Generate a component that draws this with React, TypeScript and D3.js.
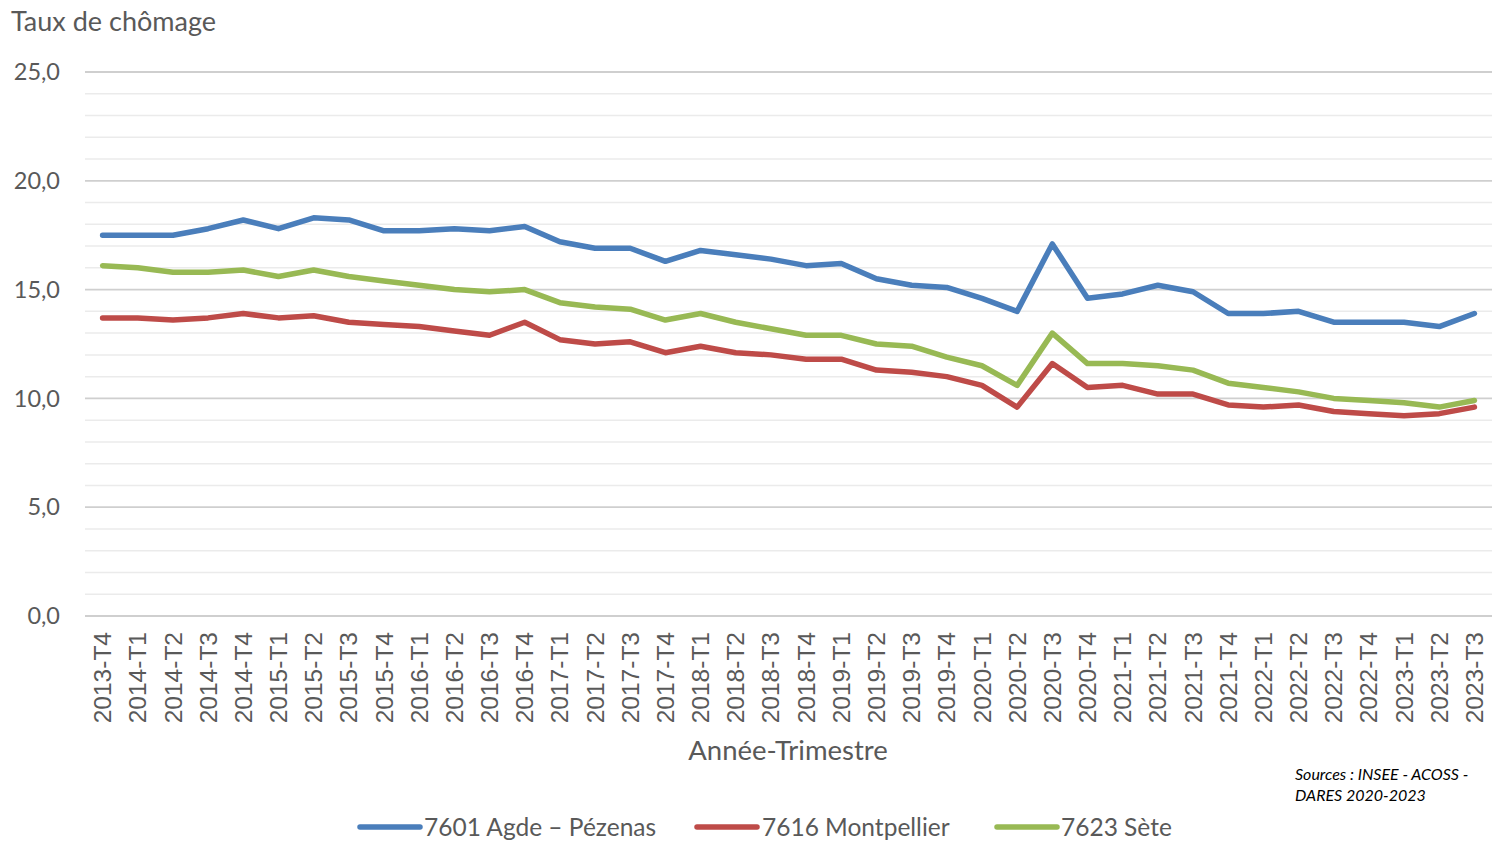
import React from "react";
import * as d3 from "d3";

const categories = [
  "2013-T4",
  "2014-T1", "2014-T2", "2014-T3", "2014-T4",
  "2015-T1", "2015-T2", "2015-T3", "2015-T4",
  "2016-T1", "2016-T2", "2016-T3", "2016-T4",
  "2017-T1", "2017-T2", "2017-T3", "2017-T4",
  "2018-T1", "2018-T2", "2018-T3", "2018-T4",
  "2019-T1", "2019-T2", "2019-T3", "2019-T4",
  "2020-T1", "2020-T2", "2020-T3", "2020-T4",
  "2021-T1", "2021-T2", "2021-T3", "2021-T4",
  "2022-T1", "2022-T2", "2022-T3", "2022-T4",
  "2023-T1", "2023-T2", "2023-T3",
];

const agdePezenas = [
  17.5, 17.5, 17.5, 17.8, 18.2, 17.8, 18.3, 18.2, 17.7, 17.7, 17.8, 17.7, 17.9,
  17.2, 16.9, 16.9, 16.3, 16.8, 16.6, 16.4, 16.1, 16.2, 15.5, 15.2, 15.1,
  14.6, 14.0, 17.1, 14.6, 14.8, 15.2, 14.9, 13.9, 13.9, 14.0, 13.5, 13.5, 13.5, 13.3, 13.9,
];

const montpellier = [
  13.7, 13.7, 13.6, 13.7, 13.9, 13.7, 13.8, 13.5, 13.4, 13.3, 13.1, 12.9, 13.5,
  12.7, 12.5, 12.6, 12.1, 12.4, 12.1, 12.0, 11.8, 11.8, 11.3, 11.2, 11.0,
  10.6, 9.6, 11.6, 10.5, 10.6, 10.2, 10.2, 9.7, 9.6, 9.7, 9.4, 9.3, 9.2, 9.3, 9.6,
];

const sete = [
  16.1, 16.0, 15.8, 15.8, 15.9, 15.6, 15.9, 15.6, 15.4, 15.2, 15.0, 14.9, 15.0,
  14.4, 14.2, 14.1, 13.6, 13.9, 13.5, 13.2, 12.9, 12.9, 12.5, 12.4, 11.9,
  11.5, 10.6, 13.0, 11.6, 11.6, 11.5, 11.3, 10.7, 10.5, 10.3, 10.0, 9.9, 9.8, 9.6, 9.9,
];

const seriesNames = ["7601 Agde – Pézenas", "7616 Montpellier", "7623 Sète"];
const seriesColors = ["#4a7ebb", "#be4b48", "#98b954"];
const seriesData = [agdePezenas, montpellier, sete];

const yMajorTicks = [0, 5, 10, 15, 20, 25];
const yMinorTicks = d3.range(0, 26, 1);

const yTitle = "Taux de chômage";
const xTitle = "Année-Trimestre";
const sourceLines = ["Sources : INSEE - ACOSS -", "DARES 2020-2023"];

const W = 1498;
const H = 841;
const left = 85;
const right = 1492;
const top = 72;
const bottom = 616;

const FONT = "Lato, 'Open Sans', sans-serif";
const GREY = "#595959";

export default function App() {
  const x = d3.scaleBand<string>().domain(categories).range([left, right]).padding(0);
  const y = d3.scaleLinear().domain([0, 25]).range([bottom, top]);
  const cx = (c: string) => (x(c) as number) + x.bandwidth() / 2;

  const line = d3
    .line<number>()
    .x((_, i) => cx(categories[i]))
    .y((d) => y(d));

  const fmt = (v: number) => v.toFixed(1).replace(".", ",");

  const legendItems = [
    { lx: 360, tx: 424 },
    { lx: 697, tx: 762 },
    { lx: 997, tx: 1061 },
  ];

  return (
    <svg
      width={W}
      height={H}
      style={{ position: "absolute", left: 0, top: 0, background: "#fff" }}
    >
      <rect x={0} y={0} width={W} height={H} fill="#fff" />
      {yMinorTicks
        .filter((t) => t % 5 !== 0)
        .map((t) => (
          <line key={"mn" + t} x1={left} x2={right} y1={y(t)} y2={y(t)} stroke="#ebebeb" strokeWidth={1.5} />
        ))}
      {yMajorTicks.map((t) => (
        <line key={"mj" + t} x1={left} x2={right} y1={y(t)} y2={y(t)} stroke="#cfcfcf" strokeWidth={1.8} />
      ))}
      {yMajorTicks.map((t) => (
        <text
          key={"yl" + t}
          x={60}
          y={y(t)}
          dy="0.35em"
          textAnchor="end"
          fontFamily={FONT}
          fontSize={23.5}
          fill={GREY}
        >
          {fmt(t)}
        </text>
      ))}
      <text x={11} y={31} fontFamily={FONT} fontSize={27} fill={GREY}>
        {yTitle}
      </text>
      {categories.map((c) => (
        <text
          key={"xl" + c}
          transform={`translate(${cx(c)},${bottom + 16}) rotate(-90)`}
          textAnchor="end"
          dy="0.35em"
          fontFamily="'Liberation Sans', Arial, sans-serif"
          fontSize={24.5}
          fill={GREY}
        >
          {c}
        </text>
      ))}
      <text x={788} y={760} textAnchor="middle" fontFamily={FONT} fontSize={27.5} fill={GREY}>
        {xTitle}
      </text>
      {seriesData.map((s, i) => (
        <path
          key={"s" + i}
          d={line(s) || ""}
          fill="none"
          stroke={seriesColors[i]}
          strokeWidth={5.5}
          strokeLinejoin="round"
          strokeLinecap="round"
        />
      ))}
      {seriesNames.map((n, i) => (
        <g key={"lg" + i}>
          <line
            x1={legendItems[i].lx}
            x2={legendItems[i].lx + 60}
            y1={827}
            y2={827}
            stroke={seriesColors[i]}
            strokeWidth={5.5}
            strokeLinecap="round"
          />
          <text x={legendItems[i].tx} y={827} dy="0.35em" fontFamily={FONT} fontSize={24.5} fill={GREY}>
            {n}
          </text>
        </g>
      ))}
      {sourceLines.map((s, i) => (
        <text
          key={"src" + i}
          x={1295}
          y={780 + i * 21}
          fontFamily={FONT}
          fontStyle="italic"
          fontSize={16}
          fill="#000"
        >
          {s}
        </text>
      ))}
    </svg>
  );
}
